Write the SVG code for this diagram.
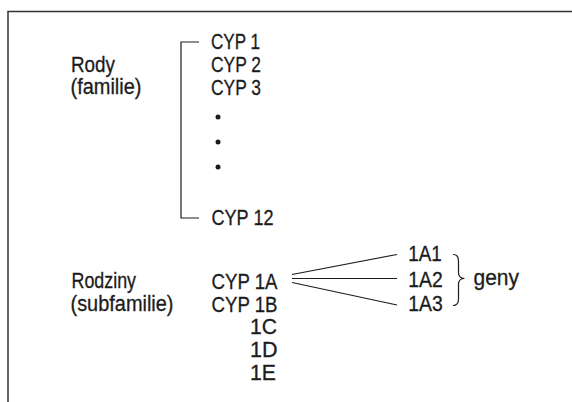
<svg xmlns="http://www.w3.org/2000/svg" width="572" height="402" viewBox="0 0 572 402">
<style>
text{font-family:"Liberation Sans","Arial",sans-serif;font-size:21.5px;fill:#1c1c1c;stroke:#1c1c1c;stroke-width:0.3;}
.ln{fill:none;stroke:#1c1c1c;stroke-width:1.2;}
.frame{fill:none;stroke:#333;stroke-width:1.5;}
</style>
<rect width="572" height="402" fill="#fff"/>
<path class="frame" d="M8,402 V11.5 H572"/>
<g id="label-rody">
<text x="71" y="72" textLength="44" lengthAdjust="spacingAndGlyphs">Rody</text>
<text x="70.5" y="94" textLength="71" lengthAdjust="spacingAndGlyphs">(familie)</text>
</g>
<g id="label-rodziny">
<text x="71.5" y="288" textLength="64.5" lengthAdjust="spacingAndGlyphs">Rodziny</text>
<text x="70.5" y="310.5" textLength="103" lengthAdjust="spacingAndGlyphs">(subfamilie)</text>
</g>
<g id="families">
<text x="211" y="49" textLength="49" lengthAdjust="spacingAndGlyphs">CYP 1</text>
<text x="211" y="72" textLength="50" lengthAdjust="spacingAndGlyphs">CYP 2</text>
<text x="211" y="95" textLength="50" lengthAdjust="spacingAndGlyphs">CYP 3</text>
<circle cx="218" cy="117" r="2.5" fill="#1c1c1c"/>
<circle cx="218" cy="142" r="2.5" fill="#1c1c1c"/>
<circle cx="218" cy="167" r="2.5" fill="#1c1c1c"/>
<text x="211.5" y="224.5" textLength="62" lengthAdjust="spacingAndGlyphs">CYP 12</text>
</g>
<g id="subfamilies">
<text x="211.5" y="288.5" textLength="66" lengthAdjust="spacingAndGlyphs">CYP 1A</text>
<text x="211.5" y="311.5" textLength="66" lengthAdjust="spacingAndGlyphs">CYP 1B</text>
<text x="250" y="334" textLength="27" lengthAdjust="spacingAndGlyphs">1C</text>
<text x="250" y="357" textLength="27.5" lengthAdjust="spacingAndGlyphs">1D</text>
<text x="250" y="380" textLength="26" lengthAdjust="spacingAndGlyphs">1E</text>
</g>
<g id="genes">
<text x="408.3" y="261" textLength="33.5" lengthAdjust="spacingAndGlyphs">1A1</text>
<text x="408.3" y="286.5" textLength="34.5" lengthAdjust="spacingAndGlyphs">1A2</text>
<text x="408.3" y="310.5" textLength="34.5" lengthAdjust="spacingAndGlyphs">1A3</text>
</g>
<g id="label-geny">
<text x="473.5" y="285" textLength="45.5" lengthAdjust="spacingAndGlyphs">geny</text>
</g>
<g id="connectors">
<path class="ln" d="M199,42 H181 V218 H199"/>
<path class="ln" d="M292,274.5 L397,254.5"/>
<path class="ln" d="M292,278.5 L397,278.5"/>
<path class="ln" d="M292,282.5 L397,305"/>
<path class="ln" d="M453,254.5 Q458.5,254.5 458.5,261 V272.5 Q458.5,278.5 464.5,278.5 Q458.5,278.5 458.5,284.5 V299 Q458.5,305.5 453,305.5"/>
</g>
</svg>
